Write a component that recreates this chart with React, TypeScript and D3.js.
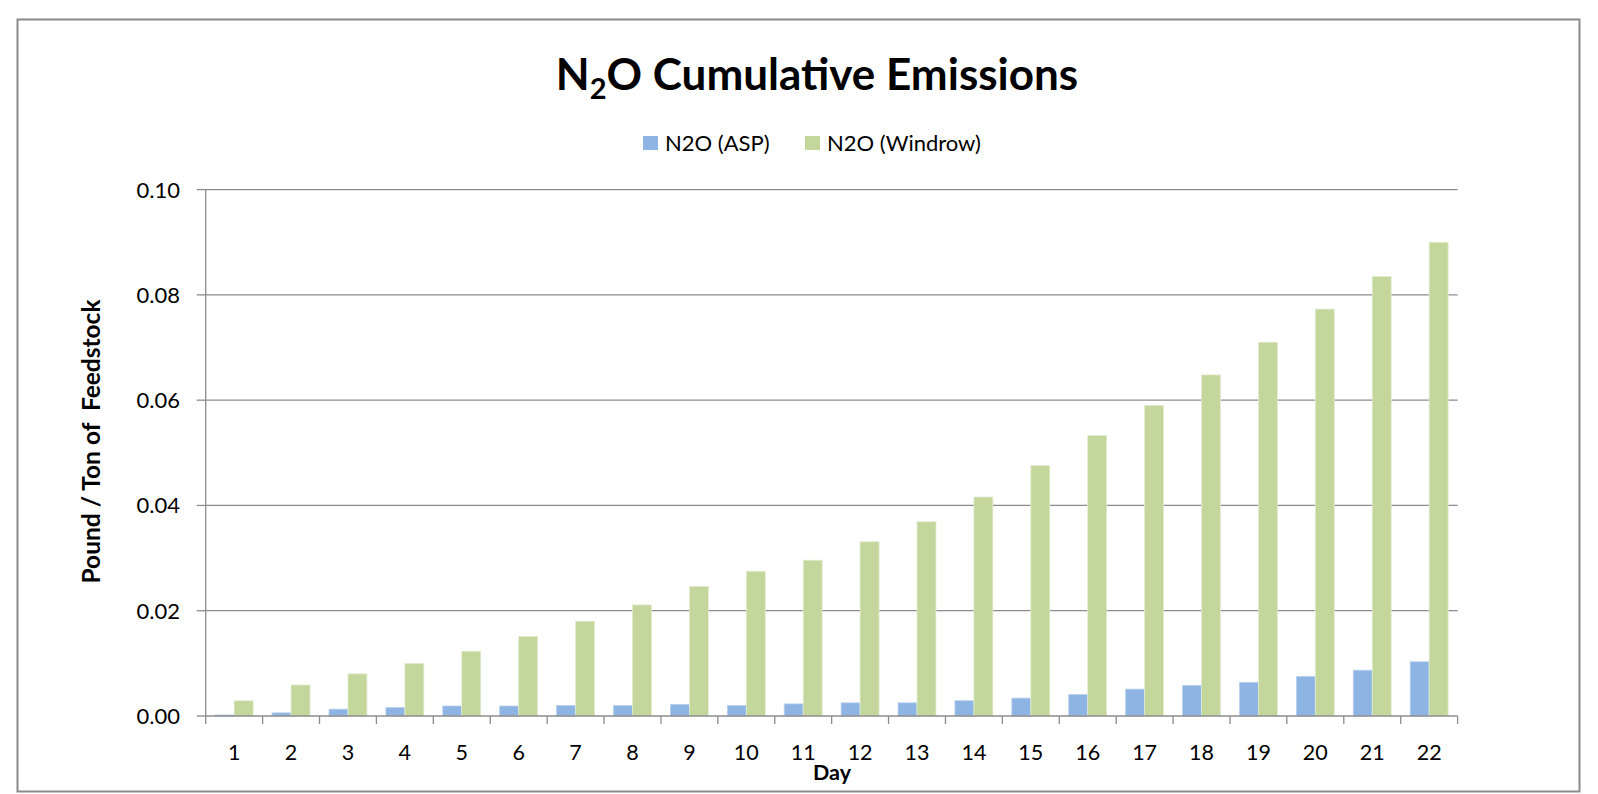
import React from "react";
import * as d3 from "d3";

// Cumulative N2O emissions per day for the two composting methods
const days: string[] = [
  "1", "2", "3", "4", "5", "6", "7", "8", "9", "10", "11",
  "12", "13", "14", "15", "16", "17", "18", "19", "20", "21", "22",
];
const aspValues: number[] = [
  0.0002, 0.0006, 0.0013, 0.0016, 0.0019, 0.0019, 0.002, 0.002, 0.0022, 0.002, 0.0023,
  0.0025, 0.0025, 0.0029, 0.0034, 0.0041, 0.0051, 0.0058, 0.0064, 0.0075, 0.0087, 0.0103,
];
const windrowValues: number[] = [
  0.0029, 0.0059, 0.008, 0.01, 0.0123, 0.0151, 0.018, 0.0211, 0.0246, 0.0275, 0.0296,
  0.0331, 0.0369, 0.0416, 0.0476, 0.0533, 0.059, 0.0648, 0.071, 0.0773, 0.0835, 0.09,
];
const seriesNames: string[] = ["N2O (ASP)", "N2O (Windrow)"];
const seriesColors: string[] = ["#8EB4E3", "#C3D69B"];
const seriesStrokes: string[] = ["#b9d0ee", "#e3ecd2"];
const yTicks: number[] = [0, 0.02, 0.04, 0.06, 0.08, 0.1];

const W = 1598;
const H = 794;
const FONT = "Lato, 'Open Sans', sans-serif";

export default function App() {
  const left = 205.7;
  const right = 1457.6;
  const top = 189.6;
  const bottom = 716;

  const x = d3.scaleBand<string>().domain(days).range([left, right]).padding(0);
  const inner = d3
    .scaleBand<string>()
    .domain(seriesNames)
    .range([0, x.bandwidth()])
    .paddingInner(0)
    .paddingOuter(0.5);
  const y = d3.scaleLinear().domain([0, 0.1]).range([bottom, top]);

  const series = [aspValues, windrowValues];
  const gridColor = "#8c8c8c";
  const legendX = [643, 805];

  return (
    <svg
      width={W}
      height={H}
      style={{ position: "absolute", left: 0, top: 0, background: "#fff" }}
      fontFamily={FONT}
    >
      <rect x={0} y={0} width={W} height={H} fill="#fff" />
      {/* chart frame */}
      <rect x={17.5} y={19.5} width={1562} height={772} fill="none" stroke="#8a8a8a" strokeWidth={2} />

      {/* title */}
      <text x={817} y={90} textAnchor="middle" fontSize={44} fontWeight={700} fill="#000">
        N<tspan fontSize={29} dy={9}>2</tspan>
        <tspan dy={-9}>O Cumulative Emissions</tspan>
      </text>

      {/* legend */}
      {seriesNames.map((name, i) => {
        const lx = legendX[i];
        return (
          <g key={name}>
            <rect x={lx} y={136} width={15} height={14} fill={seriesColors[i]} />
            <text x={lx + 22} y={151} fontSize={22} fill="#000">
              {name}
            </text>
          </g>
        );
      })}

      {/* gridlines and y ticks */}
      {yTicks.map((t) => (
        <g key={t}>
          {t > 0 && (
            <line x1={left} x2={right} y1={y(t)} y2={y(t)} stroke={gridColor} strokeWidth={1.3} />
          )}
          <line x1={left - 9} x2={left} y1={y(t)} y2={y(t)} stroke={gridColor} strokeWidth={1.3} />
          <text x={180} y={y(t) + 8} textAnchor="end" fontSize={22} fill="#000">
            {d3.format(".2f")(t)}
          </text>
        </g>
      ))}

      {/* bars */}
      {days.map((d, di) =>
        series.map((vals, si) => {
          const bx = (x(d) as number) + (inner(seriesNames[si]) as number);
          const v = vals[di];
          return (
            <rect
              key={d + "-" + si}
              x={bx}
              y={y(v)}
              width={inner.bandwidth()}
              height={bottom - y(v)}
              fill={seriesColors[si]}
              stroke={seriesStrokes[si]}
              strokeWidth={0.8}
            />
          );
        })
      )}

      {/* axes */}
      <line x1={left} x2={left} y1={top} y2={bottom} stroke={gridColor} strokeWidth={1.3} />
      <line x1={left} x2={right} y1={bottom} y2={bottom} stroke={gridColor} strokeWidth={1.3} />
      {[...days.map((d) => x(d) as number), right].map((tx, i) => (
        <line key={i} x1={tx} x2={tx} y1={bottom} y2={bottom + 8} stroke={gridColor} strokeWidth={1.3} />
      ))}
      {days.map((d) => (
        <text
          key={d}
          x={(x(d) as number) + x.bandwidth() / 2}
          y={759.5}
          textAnchor="middle"
          fontSize={21.5}
          fill="#000"
        >
          {d}
        </text>
      ))}

      {/* axis titles */}
      <text x={832} y={780} textAnchor="middle" fontSize={21.5} fontWeight={700} fill="#000">
        Day
      </text>
      <text
        transform={`translate(100, 441.5) rotate(-90)`}
        textAnchor="middle"
        fontSize={24.5}
        fontWeight={700}
        fill="#000"
        style={{ whiteSpace: "pre" }}
      >
        {"Pound / Ton of  Feedstock"}
      </text>
    </svg>
  );
}
